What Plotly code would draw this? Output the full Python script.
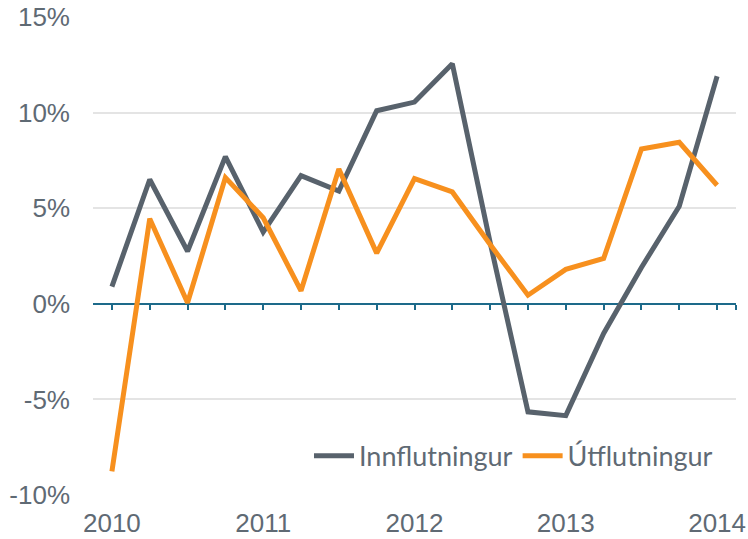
import plotly.graph_objects as go

quarters = ["2010K1", "2010K2", "2010K3", "2010K4",
            "2011K1", "2011K2", "2011K3", "2011K4",
            "2012K1", "2012K2", "2012K3", "2012K4",
            "2013K1", "2013K2", "2013K3", "2013K4",
            "2014K1"]
innflutningur = [0.9, 6.5, 2.75, 7.7, 3.75, 6.7, 5.9, 10.1, 10.55, 12.55, 3.2,
                 -5.65, -5.85, -1.55, 1.9, 5.1, 11.9]
utflutningur = [-8.77, 4.45, 0.05, 6.6, 4.5, 0.68, 7.05, 2.65, 6.55, 5.85, 3.1,
                0.45, 1.8, 2.37, 8.1, 8.45, 6.2]
series_names = ["Innflutningur", "Útflutningur"]
year_labels = ["2010", "2011", "2012", "2013", "2014"]
y_ticks = [-10, -5, 0, 5, 10, 15]
y_ticktext = ["-10%", "-5%", "0%", "5%", "10%", "15%"]

x = list(range(len(quarters)))
year_pos = [i for i, q in enumerate(quarters) if q.endswith("K1")]

GRAY = "#58626c"
ORANGE = "#f7901e"
TEAL = "#1d6a8a"
TEXT = "#5f6a74"

fig = go.Figure()
fig.add_trace(go.Scatter(x=x, y=innflutningur, name=series_names[0], mode="lines",
                         line=dict(color=GRAY, width=5)))
fig.add_trace(go.Scatter(x=x, y=utflutningur, name=series_names[1], mode="lines",
                         line=dict(color=ORANGE, width=5)))
# invisible trace to activate the zero-line axis
fig.add_trace(go.Scatter(x=x, y=[0] * len(x), xaxis="x2", mode="lines",
                         line=dict(width=0), showlegend=False, hoverinfo="skip"))

xr = [-0.5, len(quarters) - 0.5]
fig.update_layout(
    width=748, height=539,
    margin=dict(l=93, r=12, t=17, b=44, autoexpand=False),
    paper_bgcolor="white", plot_bgcolor="white",
    font=dict(family="Liberation Sans, Arial, sans-serif", color=TEXT, size=26),
    showlegend=True,
    legend=dict(orientation="h", x=0.972, xanchor="right", y=0.03, yanchor="bottom",
                bgcolor="rgba(0,0,0,0)",
                font=dict(family="Lato, sans-serif", size=27, color=TEXT),
                itemwidth=40, tracegroupgap=0),
    xaxis=dict(range=xr, tickvals=year_pos, ticktext=year_labels,
               showgrid=False, zeroline=False, showline=False, ticks="",
               ticklabelstandoff=10, tickfont=dict(size=26), automargin=False),
    xaxis2=dict(range=xr, overlaying="x", anchor="free", position=0.4,
                tickvals=x + [xr[1]], showticklabels=False, ticks="outside",
                ticklen=5, tickwidth=2, tickcolor=TEAL, showline=True,
                linecolor=TEAL, linewidth=2, showgrid=False, zeroline=False,
                layer="below traces", automargin=False),
    yaxis=dict(range=[-10, 15], tickvals=y_ticks, ticktext=y_ticktext,
               showgrid=True, gridcolor="#e4e4e4", gridwidth=2, zeroline=False,
               showline=False, ticks="", ticklabelstandoff=22,
               tickfont=dict(size=26), automargin=False),
)

fig.write_html("out.html",
               config={"displayModeBar": False},
               post_script="document.body.style.margin='0';"
                           "document.body.style.overflow='hidden';")
